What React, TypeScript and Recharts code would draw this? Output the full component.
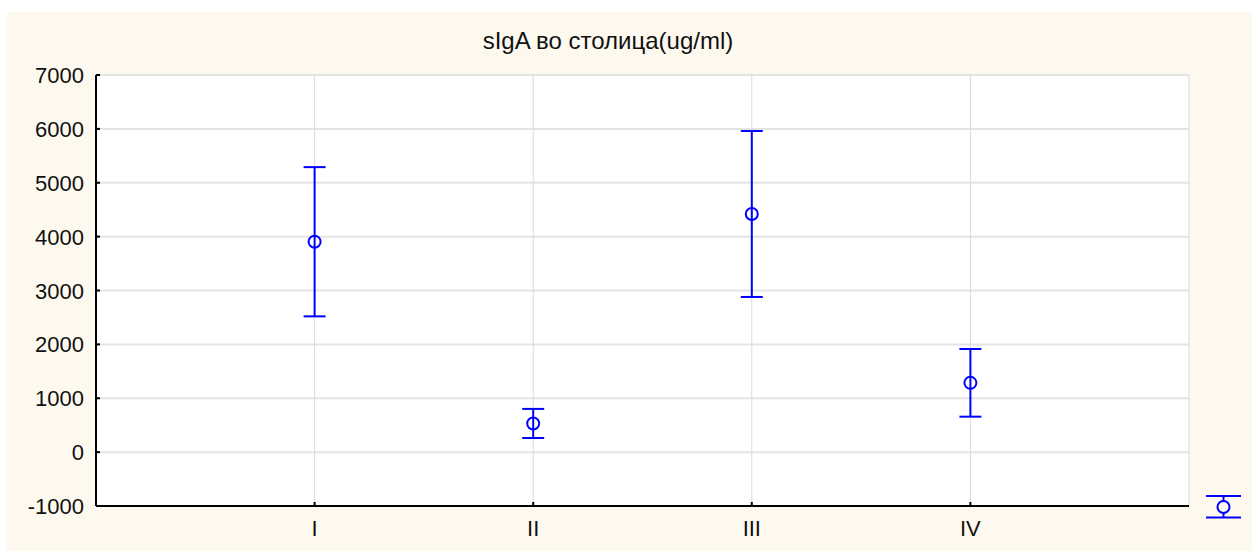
import { CartesianGrid, ErrorBar, Scatter, ScatterChart, XAxis, YAxis } from 'recharts'

const groups = ['I', 'II', 'III', 'IV']
const means = [3905, 532, 4420, 1286]
const errors = [1385, 270, 1540, 628]
const yTicks = [-1000, 0, 1000, 2000, 3000, 4000, 5000, 6000, 7000]

const BLUE = '#0000ff'
const CREAM = '#fdf9ef'
const FONT = '"Liberation Sans", Arial, sans-serif'
const TICK_PX = 22

const points = groups.map((name, i) => ({ pos: i + 1, name, mean: means[i], err: errors[i] }))

// open circle used for every group mean
const MeanDot = (props: any) => {
  const { cx, cy } = props
  if (cx == null || cy == null) return null
  return <circle cx={cx} cy={cy} r={6} fill="none" stroke={BLUE} strokeWidth={2} />
}

const BottomTick = (props: any) => {
  const { x, y, payload } = props
  return (
    <text x={x} y={y + 32} textAnchor="middle" fontSize={TICK_PX} fontFamily={FONT} fill="#111">
      {groups[payload.value - 1] ?? ''}
    </text>
  )
}

const LeftTick = (props: any) => {
  const { x, y, payload } = props
  return (
    <text x={x - 14} y={y + 8} textAnchor="end" fontSize={TICK_PX} fontFamily={FONT} fill="#111">
      {payload.value}
    </text>
  )
}

// key symbol in the bottom-right corner: whisker with caps and a circle
const WhiskerKey = () => (
  <svg width={42} height={28} style={{ position: 'absolute', left: 1196, top: 482 }}>
    <line x1={3} x2={38} y1={2} y2={2} stroke={BLUE} strokeWidth={2} />
    <line x1={3} x2={38} y1={23.5} y2={23.5} stroke={BLUE} strokeWidth={2} />
    <line x1={20.5} x2={20.5} y1={2} y2={23.5} stroke={BLUE} strokeWidth={2} />
    <circle cx={20.5} cy={13} r={6} fill={CREAM} stroke={BLUE} strokeWidth={2} />
  </svg>
)

export default function App() {
  return (
    <div
      style={{
        position: 'absolute',
        left: 7,
        top: 12,
        width: 1245,
        height: 539,
        background: CREAM,
        fontFamily: FONT,
      }}
    >
      <div
        style={{
          position: 'absolute',
          left: 401,
          top: 17,
          width: 400,
          textAlign: 'center',
          fontSize: 24,
          lineHeight: '24px',
          color: '#111',
        }}
      >
        sIgA во столица(ug/ml)
      </div>
      <ScatterChart width={1245} height={539} margin={{ top: 63, right: 63, bottom: 0, left: 0 }}>
        <CartesianGrid
          horizontal
          vertical={false}
          stroke="#e4e4e4"
          strokeWidth={2}
          fill="#ffffff"
          yAxisId="left"
          xAxisId="bottom"
        />
        <CartesianGrid
          horizontal={false}
          vertical
          stroke="#dadada"
          strokeWidth={1}
          yAxisId="left"
          xAxisId="bottom"
        />
        <XAxis
          xAxisId="bottom"
          type="number"
          dataKey="pos"
          domain={[0, 5]}
          ticks={[1, 2, 3, 4]}
          height={45}
          tick={BottomTick}
          tickSize={-4}
          axisLine={{ stroke: '#000', strokeWidth: 2 }}
          tickLine={{ stroke: '#000', strokeWidth: 2 }}
        />
        <XAxis
          xAxisId="top"
          orientation="top"
          type="number"
          domain={[0, 5]}
          ticks={[1, 2, 3, 4]}
          tickFormatter={() => ''}
          height={0}
          tickSize={-4}
          axisLine={{ stroke: '#000', strokeWidth: 2 }}
          tickLine={{ stroke: '#000', strokeWidth: 2 }}
        />
        <YAxis
          yAxisId="left"
          type="number"
          domain={[-1000, 7000]}
          ticks={yTicks}
          interval={0}
          width={89}
          tick={LeftTick}
          tickSize={-4}
          axisLine={{ stroke: '#000', strokeWidth: 2 }}
          tickLine={{ stroke: '#000', strokeWidth: 2 }}
        />
        <YAxis
          yAxisId="right"
          orientation="right"
          type="number"
          domain={[-1000, 7000]}
          width={0}
          tick={false}
          axisLine={{ stroke: '#000', strokeWidth: 2 }}
        />
        <Scatter
          data={points}
          dataKey="mean"
          xAxisId="bottom"
          yAxisId="left"
          shape={MeanDot}
          isAnimationActive={false}
        >
          <ErrorBar dataKey="err" direction="y" width={11} stroke={BLUE} strokeWidth={2} />
        </Scatter>
      </ScatterChart>
      <WhiskerKey />
    </div>
  )
}
